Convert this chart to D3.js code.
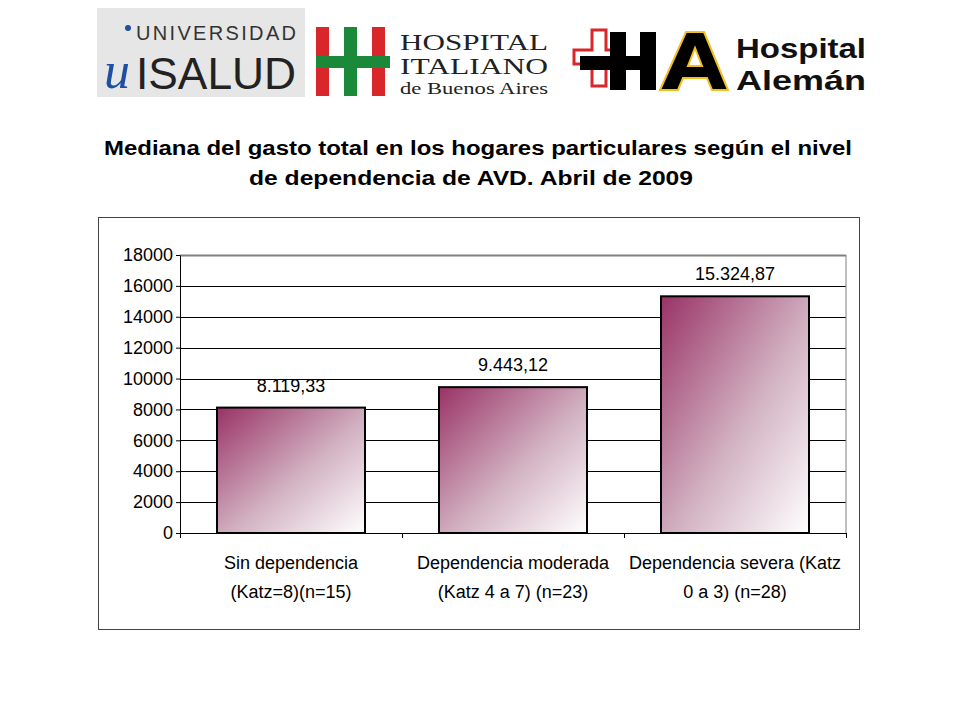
<!DOCTYPE html>
<html><head><meta charset="utf-8">
<script src="https://cdn.jsdelivr.net/npm/d3@7"></script>
<style>body{margin:0;background:#fff}</style></head>
<body><svg id="c" width="960" height="720"></svg>
<script>
const categories=[["Sin dependencia","(Katz=8)(n=15)"],["Dependencia moderada","(Katz 4 a 7) (n=23)"],["Dependencia severa (Katz","0 a 3) (n=28)"]];
const values=[8119.33,9443.12,15324.87];
const valueLabels=["8.119,33","9.443,12","15.324,87"];
const yTicks=[0,2000,4000,6000,8000,10000,12000,14000,16000,18000];

const svg=d3.select("#c");
const defs=svg.append("defs");
const g=defs.append("linearGradient").attr("id","bg").attr("x1","0").attr("y1","0").attr("x2","1").attr("y2","1");
g.append("stop").attr("offset","0").attr("stop-color","#993366");
g.append("stop").attr("offset","0.55").attr("stop-color","#d2b2c2");
g.append("stop").attr("offset","1").attr("stop-color","#ffffff");

// logos
svg.append("rect").attr("x",97).attr("y",8).attr("width",208).attr("height",89).attr("fill","#e6e6e6");
svg.append("circle").attr("cx",128).attr("cy",28).attr("r",3).attr("fill","#1f4fa0");
svg.append("text").attr("x",136).attr("y",40).attr("font-family","Liberation Sans Narrow, Arial Narrow, sans-serif").attr("font-size",20).attr("fill","#333").attr("textLength",160).text("UNIVERSIDAD");
svg.append("text").attr("x",104).attr("y",88).attr("font-family","Liberation Serif, serif").attr("font-style","italic").attr("font-size",52).attr("fill","#1f4fa0").text("u");
svg.append("text").attr("x",136).attr("y",89).attr("font-family","Liberation Sans Narrow, Arial Narrow, sans-serif").attr("font-size",44).attr("fill","#222").attr("textLength",160).attr("lengthAdjust","spacingAndGlyphs").text("ISALUD");
svg.append("rect").attr("x",316).attr("y",27).attr("width",13).attr("height",69).attr("fill","#d9262b");
svg.append("rect").attr("x",344).attr("y",27).attr("width",13).attr("height",69).attr("fill","#1a8a3a");
svg.append("rect").attr("x",372).attr("y",27).attr("width",13).attr("height",69).attr("fill","#d9262b");
svg.append("rect").attr("x",316).attr("y",56).attr("width",74).attr("height",12).attr("fill","#1a8a3a");
const fi=(y,s,t)=>svg.append("text").attr("x",400).attr("y",y).attr("font-family","Liberation Serif, serif").attr("font-size",s).attr("fill","#222").attr("textLength",148).attr("lengthAdjust","spacingAndGlyphs").text(t);
fi(50,24,"HOSPITAL");fi(74,24,"ITALIANO");fi(94,17,"de Buenos Aires");
svg.append("path").attr("d","M574 50 h18 v-20 h14 v20 h16 v14 h-16 v22 h-14 v-22 h-18z").attr("fill","none").attr("stroke","#d9262b").attr("stroke-width",3);
svg.append("path").attr("d","M580 56 h30 v-24 h16 v24 h14 v-24 h16 v58 h-16 v-20 h-14 v20 h-16 v-20 h-30z").attr("fill","#000");
svg.append("path").attr("d","M660 90 L686 32 h18 L728 90 h-16 l-5 -12 h-24 l-5 12z M688 66 h14 l-7 -18z").attr("fill","#000").attr("fill-rule","evenodd").attr("stroke","#f0c020").attr("stroke-width",2);
svg.append("text").attr("x",736).attr("y",58).attr("font-family","Liberation Sans, Arial, sans-serif").attr("font-weight","bold").attr("font-size",28).attr("fill","#111").attr("textLength",130).attr("lengthAdjust","spacingAndGlyphs").text("Hospital");
svg.append("text").attr("x",736).attr("y",90).attr("font-family","Liberation Sans, Arial, sans-serif").attr("font-weight","bold").attr("font-size",28).attr("fill","#111").attr("textLength",130).attr("lengthAdjust","spacingAndGlyphs").text("Alemán");

const t=svg.append("text").attr("text-anchor","middle").attr("font-family","Liberation Sans, Arial, sans-serif").attr("font-weight","bold").attr("font-size",20).attr("fill","#000");
t.append("tspan").attr("x",478).attr("y",155).attr("textLength",748).attr("lengthAdjust","spacingAndGlyphs").text("Mediana del gasto total en los hogares particulares según el nivel");
t.append("tspan").attr("x",471).attr("y",185).attr("textLength",444).attr("lengthAdjust","spacingAndGlyphs").text("de dependencia de AVD. Abril de 2009");

svg.append("rect").attr("x",98.5).attr("y",217.5).attr("width",761).attr("height",412).attr("fill","#fff").attr("stroke","#444");

const x=d3.scaleBand().domain(d3.range(3)).range([180,846]).paddingInner(1/3).paddingOuter(1/6);
const y=d3.scaleLinear().domain([0,18000]).range([533,255]);
const font="Liberation Sans Narrow, Arial Narrow, Liberation Sans, sans-serif";
svg.append("g").selectAll("line").data(yTicks.slice(1)).join("line")
 .attr("x1",180).attr("x2",846).attr("y1",d=>Math.round(y(d))+.5).attr("y2",d=>Math.round(y(d))+.5)
 .attr("stroke",d=>d===18000?"#808080":"#000").attr("stroke-width",d=>d===18000?2:1);
svg.append("line").attr("x1",846).attr("x2",846).attr("y1",255).attr("y2",533).attr("stroke","#808080");
svg.append("g").selectAll("rect").data(values).join("rect")
 .attr("x",(d,i)=>x(i)).attr("width",x.bandwidth()).attr("y",d=>y(d)).attr("height",d=>y(0)-y(d))
 .attr("fill","url(#bg)").attr("stroke","#000").attr("stroke-width",2);
svg.append("g").selectAll("text").data(values).join("text")
 .attr("x",(d,i)=>x(i)+x.bandwidth()/2).attr("y",d=>y(d)-16).attr("text-anchor","middle")
 .attr("font-family",font).attr("font-size",18).text((d,i)=>valueLabels[i]);
const ya=svg.append("g").attr("transform","translate(180,0)").call(d3.axisLeft(y).tickValues(yTicks).tickSize(4).tickSizeOuter(0).tickFormat(d3.format("d")));
ya.selectAll("text").attr("font-family",font).attr("font-size",18).attr("fill","#000");
ya.selectAll("line,path").attr("stroke","#000");
const xa=svg.append("g").attr("transform","translate(0,533)").call(d3.axisBottom(d3.scaleLinear().domain([0,3]).range([180,846])).tickValues([0,1,2,3]).tickSize(5).tickFormat(""));
xa.selectAll("line,path").attr("stroke","#000");
categories.forEach((c,i)=>{
 const tx=svg.append("text").attr("text-anchor","middle").attr("font-family",font).attr("font-size",18);
 c.forEach((l,j)=>tx.append("tspan").attr("x",x(i)+x.bandwidth()/2).attr("y",569+j*29).text(l));
});
</script></body></html>
